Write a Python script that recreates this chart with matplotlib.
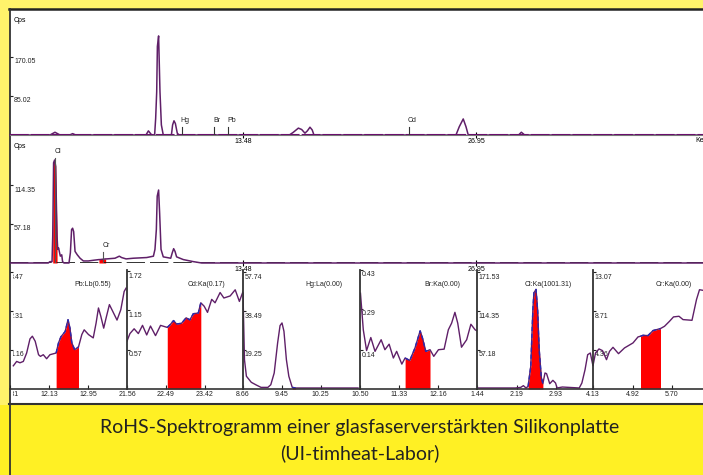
#!/usr/bin/env python3

import matplotlib
matplotlib.use("Agg")
import matplotlib.pyplot as plt
import numpy as np
from matplotlib.lines import Line2D
from matplotlib.patches import Rectangle
from matplotlib.transforms import Bbox, ScaledTranslation

W, H = 703, 475
PURPLE = "#5f1f68"
AXIS = "#333333"
SMALL = 5.0

# upper spectrum, keV / cps
top_x = [0, 2.31, 2.60, 2.89, 3.45, 3.62, 3.80, 7.86, 8.00, 8.19, 8.36, 8.42, 8.48, 8.52, 8.59, 8.67, 8.75, 8.86,
         9.33, 9.40, 9.48, 9.56, 9.67, 9.77, 16.15, 16.38, 16.67, 16.86, 17.05, 17.19, 17.34, 17.47, 17.57,
         25.78, 25.97, 26.20, 26.36, 26.49, 29.40, 29.56, 29.75, 40.1]
top_y = [0, 0, 6, 0, 0, 3, 0, 0, 9, 0, 0, 36, 94, 193, 216, 94, 22, 0,
         0, 22, 31, 25, 4, 0, 0, 6, 15, 12, 4, 9, 17, 11, 0,
         0, 18, 35, 18, 0, 0, 6, 0, 0]
top_marks = [("Hg", 9.92), ("Br", 11.81), ("Pb", 12.62), ("Cd", 23.06)]
top_ticks = [85.02, 170.05]

# lower spectrum
mid_x = [0, 2.21, 2.31, 2.43, 2.47, 2.52, 2.58, 2.64, 2.68, 2.72, 2.76, 2.81, 2.85, 2.91, 2.99, 3.04, 3.12, 3.41, 3.49,
         3.56, 3.62, 3.68, 3.76, 3.89, 4.05, 4.24, 4.53, 4.82, 5.14, 5.20, 5.53, 5.59, 6.07, 6.32, 6.45, 6.71, 7.13,
         7.90, 8.29, 8.38, 8.46, 8.51, 8.59, 8.65, 8.73, 8.86, 9.29, 9.38, 9.46, 9.54, 9.63, 10.02, 10.60, 11.08, 40.1]
mid_y = [0, 0, 2, 2, 39, 147, 151, 142, 88, 39, 20, 22, 17, 10, 12, 2, 0, 0, 15,
         49, 51, 46, 17, 12, 7, 3, 3, 4, 5, 5, 6, 6, 7, 10, 8, 6, 7,
         8, 10, 20, 49, 98, 107, 73, 20, 9, 7, 15, 21, 17, 9, 5, 2, 0, 0]
mid_marks = [("Cl", 2.60, 154), ("Cr", 5.38, 16)]
mid_ticks = [57.18, 114.35]
mid_fills = [(2.47, 2.72), (5.14, 5.53)]

# element windows
pb_x = [11.38, 11.45, 11.52, 11.59, 11.66, 11.73, 11.78, 11.84, 11.91, 11.95, 12.01, 12.08, 12.15, 12.28, 12.33, 12.38,
        12.47, 12.53, 12.57, 12.61, 12.67, 12.75, 12.82, 12.87, 12.96, 13.06, 13.12, 13.17, 13.22, 13.28, 13.33, 13.40,
        13.47, 13.56, 13.64, 13.71, 13.75]
pb_y = [.69, .82, .78, .82, 1.07, 1.49, 1.57, 1.42, 1.02, .97, 1.02, .90, 1.02, 1.07, 1.37, 1.55,
        1.71, 2.06, 1.81, 1.37, 1.17, 1.25, 1.62, 1.76, 1.62, 1.52, 1.96, 2.41, 2.16, 1.81, 2.11, 2.51,
        2.31, 2.05, 2.36, 2.90, 3.00]
cd_x = [21.56, 21.63, 21.73, 21.83, 21.93, 22.03, 22.12, 22.24, 22.36, 22.52, 22.59, 22.67, 22.74, 22.86, 22.97, 23.06,
        23.14, 23.26, 23.32, 23.40, 23.48, 23.58, 23.66, 23.78, 23.87, 24.02, 24.14, 24.24, 24.33]
cd_y = [.70, .81, .88, .81, .93, .79, .92, .78, .93, .90, .94, 1.00, .95, .96, 1.04, 1.01,
        1.10, 1.11, 1.26, 1.21, 1.12, 1.31, 1.26, 1.41, 1.33, 1.36, 1.45, 1.28, 1.43]
hg_x = [8.66, 8.69, 8.73, 8.83, 8.93, 9.03, 9.17, 9.23, 9.30, 9.37, 9.42, 9.46, 9.50, 9.55, 9.60, 9.67, 9.74, 11.02]
hg_y = [47.4, 14.5, 6.3, 3.3, 2.0, .8, .8, 2.1, 7.9, 22.7, 31.3, 32.6, 28.5, 14.5, 6.3, .8, .5, .5]
br_x = [10.51, 10.57, 10.64, 10.73, 10.82, 10.95, 11.03, 11.12, 11.21, 11.28, 11.39, 11.46, 11.56, 11.67, 11.78, 11.83,
        11.90, 11.99, 12.07, 12.17, 12.29, 12.38, 12.45, 12.52, 12.58, 12.66, 12.77, 12.86, 12.95, 12.99]
br_y = [.346, .214, .139, .186, .136, .178, .142, .162, .112, .136, .09, .112, .103, .148, .21, .184,
        .136, .142, .118, .142, .144, .214, .238, .277, .238, .151, .178, .234, .214, .21]
cl_x = [1.44, 2.17, 2.27, 2.32, 2.37, 2.41, 2.46, 2.50, 2.52, 2.56, 2.59, 2.62, 2.66, 2.69, 2.73, 2.76, 2.82, 2.88, 2.93,
        2.96, 3.06, 3.38, 3.43, 3.49, 3.54, 3.59, 3.64, 3.67]
cl_y = [1.5, 1.5, 2.4, 4.9, 1.5, 3.9, 33.2, 116, 141, 146, 116, 58, 17, 7.8, 23.5, 22.5, 7.8, 12.7, 8.8,
        1.5, 2.9, 1.5, 8.8, 28.3, 50.3, 52.8, 34.2, 43]
cr_x = [4.13, 4.18, 4.25, 4.32, 4.40, 4.46, 4.53, 4.64, 4.76, 4.93, 5.03, 5.08, 5.13, 5.23, 5.33, 5.45, 5.48, 5.56, 5.66,
        5.74, 5.85, 5.93, 6.11, 6.20, 6.26, 6.32]
cr_y = [2.61, 4.03, 4.48, 4.29, 3.28, 4.21, 4.66, 3.95, 4.59, 5.15, 5.82, 5.90, 6.0, 5.97, 6.53, 6.71, 6.76, 7.01, 7.57,
        8.06, 8.13, 7.76, 7.68, 10, 11.1, 11.04]

panel_titles = ["Pb:Lb(0.55)", "Cd:Ka(0.17)", "Hg:La(0.00)", "Br:Ka(0.00)", "Cl:Ka(1001.31)", "Cr:Ka(0.00)"]
panel_x = [pb_x, cd_x, hg_x, br_x, cl_x, cr_x]
panel_y = [pb_y, cd_y, hg_y, br_y, cl_y, cr_y]
panel_start = [11.31, 21.56, 8.66, 10.50, 1.44, 4.13]
panel_xticks = [[12.13, 12.95], [22.49, 23.42], [9.45, 10.25], [11.33, 12.16], [2.19, 2.93], [4.92, 5.70]]
panel_yticks = [[1.16, 2.31, 3.47], [0.57, 1.15, 1.72], [19.25, 38.49, 57.74],
                [0.14, 0.29, 0.43], [57.18, 114.35, 171.53], [4.36, 8.71, 13.07]]
panel_fills = [(12.28, 12.75), (22.52, 23.32), (9.67, 9.74), (11.46, 11.99), (2.41, 2.69), (5.08, 5.48)]
panel_edges = [10, 127, 243, 360, 477, 593, 703]
title_centers = [93, 207, 324, 442, 548, 674]

caption = ["RoHS-Spektrogramm einer glasfaserverstärkten Silikonplatte", "(UI-timheat-Labor)"]

plt.rcParams["font.family"] = ["Liberation Sans", "DejaVu Sans"]


def px_axes(x0, x1, ytop, ybot):
    ax = fig.add_axes([x0 / W, 1 - ybot / H, (x1 - x0) / W, (ybot - ytop) / H])
    ax.patch.set_alpha(0)
    for s in ["top", "right"]:
        ax.spines[s].set_visible(False)
    return ax


def style_yticks(ax, ticks, pad):
    ax.set_yticks(ticks)
    ax.set_yticklabels(["%.2f" % t for t in ticks])
    ax.tick_params(axis="y", direction="in", length=2, width=0.8, pad=pad, labelsize=SMALL, colors="#222222")
    for lab in ax.get_yticklabels():
        lab.set_ha("left")
        lab.set_va("top")
        lab.set_transform(lab.get_transform() + ScaledTranslation(0, -0.015, fig.dpi_scale_trans))
        lab.set_clip_on(True)
        lab.set_clip_box(clip)


fig = plt.figure(figsize=(W / 100, H / 100), dpi=100, facecolor="#fff36b")
clip = Bbox([[13, 0], [W, H]])

# white plot area, bright caption band, frame
fig.add_artist(Rectangle((10 / W, 1 - 404 / H), 693 / W, 395 / H, transform=fig.transFigure, fc="white", ec="none", zorder=-3))
fig.add_artist(Rectangle((0, 0), 1, 1 - 405 / H, transform=fig.transFigure, fc="#fff024", ec="none", zorder=-3))
fig.add_artist(Line2D([9 / W, 1], [1 - 9 / H] * 2, color="#222222", lw=1.8, zorder=-2))
fig.add_artist(Line2D([9.5 / W] * 2, [0, 1 - 9 / H], color="#333333", lw=1.3, zorder=-2))
fig.add_artist(Line2D([9 / W, 1], [1 - 404 / H] * 2, color="#333333", lw=1.5, zorder=-2))

# upper spectrum
ax = px_axes(10, 703, 10, 135)
ax.set_xlim(0, 40.06)
ax.set_ylim(0, 125 / 39 * 85.02)
ax.spines["left"].set_visible(False)
ax.spines["bottom"].set_color("#777777")
ax.plot(top_x, top_y, color=PURPLE, lw=1.1, clip_on=False)
ax.plot([0, 40.06], [0, 0], color="#6a0a6e", lw=1.5, ls=(0, (9, 1)))
for name, x in top_marks:
    ax.plot([x, x], [0, 17], color="#333333", lw=0.8)
    ax.text(x + 0.17, 24, name, fontsize=SMALL, ha="center", va="bottom", color="#222222")
style_yticks(ax, top_ticks, -3)
ax.set_xticks([13.48, 26.95])
ax.set_xticklabels(["13.48", "26.95"])
ax.tick_params(axis="x", direction="inout", length=4, width=0.8, pad=0.5, labelsize=SMALL)
ax.text(4 / 693, 1 - 10 / 125, "Cps", transform=ax.transAxes, fontsize=SMALL, va="center")
ax.text(685 / 693, -5 / 125, "Ke", transform=ax.transAxes, fontsize=SMALL, va="center")

# lower spectrum
ax = px_axes(10, 703, 140, 263)
ax.set_xlim(0, 40.06)
ax.set_ylim(0, 123 / 39 * 57.18)
ax.spines["left"].set_visible(False)
ax.spines["bottom"].set_visible(False)
ax.plot([0, 40.06], [0, 0], color="#111111", lw=1.2, ls=(0, (11, 3)))
mx = np.array(mid_x)
my = np.array(mid_y)
for lo, hi in mid_fills:
    ax.fill_between(mx, 0, my, where=(mx >= lo) & (mx <= hi), color="#ff0000", lw=0)
ax.plot(mx, my, color=PURPLE, lw=1.1, clip_on=False)
for name, x, top in mid_marks:
    ax.plot([x, x], [0, top], color="#555555", lw=0.8)
    ax.text(x + 0.17, top + 5, name, fontsize=SMALL, ha="center", va="bottom", color="#222222")
style_yticks(ax, mid_ticks, -3)
ax.set_xticks([13.48, 26.95])
ax.set_xticklabels(["13.48", "26.95"])
ax.tick_params(axis="x", direction="inout", length=4, width=0.8, pad=0.5, labelsize=SMALL)
ax.text(4 / 693, 1 - 7 / 123, "Cps", transform=ax.transAxes, fontsize=SMALL, va="center")

# element windows
for i in range(6):
    x0, x1 = panel_edges[i], panel_edges[i + 1]
    ax = px_axes(x0, x1, 270, 389)
    step = panel_xticks[i][1] - panel_xticks[i][0]
    ax.set_xlim(panel_start[i], panel_start[i] + (x1 - x0) * step / 39)
    ax.set_ylim(0, 119 / 39 * panel_yticks[i][0])
    ax.spines["left"].set_visible(i > 0)
    ax.spines["left"].set_color(AXIS)
    ax.spines["left"].set_linewidth(1.3)
    ax.spines["bottom"].set_color(AXIS)
    ax.spines["bottom"].set_linewidth(1.2)
    px_ = np.array(panel_x[i])
    py_ = np.array(panel_y[i])
    lo, hi = panel_fills[i]
    mask = (px_ >= lo) & (px_ <= hi)
    ax.fill_between(px_, 0, py_, where=mask, color="#ff0000", lw=0)
    ax.plot(px_, py_, color=PURPLE, lw=1.0)
    ax.plot(px_[mask], py_[mask], color="#2a2ab0", lw=1.0, ls=(0, (3, 2)))
    style_yticks(ax, panel_yticks[i], -1 if i > 0 else 0)
    ticks = [panel_start[i]] + panel_xticks[i]
    ax.set_xticks(ticks)
    ax.set_xticklabels(["%.2f" % t for t in ticks])
    ax.tick_params(axis="x", direction="in", length=3, width=0.8, pad=1.5, labelsize=SMALL, colors="#222222")
    for lab in ax.get_xticklabels():
        lab.set_clip_on(True)
        lab.set_clip_box(clip)
    ax.text((title_centers[i] - x0) / (x1 - x0), (389 - 284) / 119, panel_titles[i], transform=ax.transAxes,
            fontsize=SMALL, ha="center", va="center", color="#222222")

fig.text(360 / W, 1 - 428 / H, caption[0], family="Lato", fontsize=14, color="#222222", ha="center", va="center")
fig.text(360 / W, 1 - 453 / H, caption[1], family="Lato", fontsize=14, color="#222222", ha="center", va="center")

fig.savefig("out.png", dpi=100)
